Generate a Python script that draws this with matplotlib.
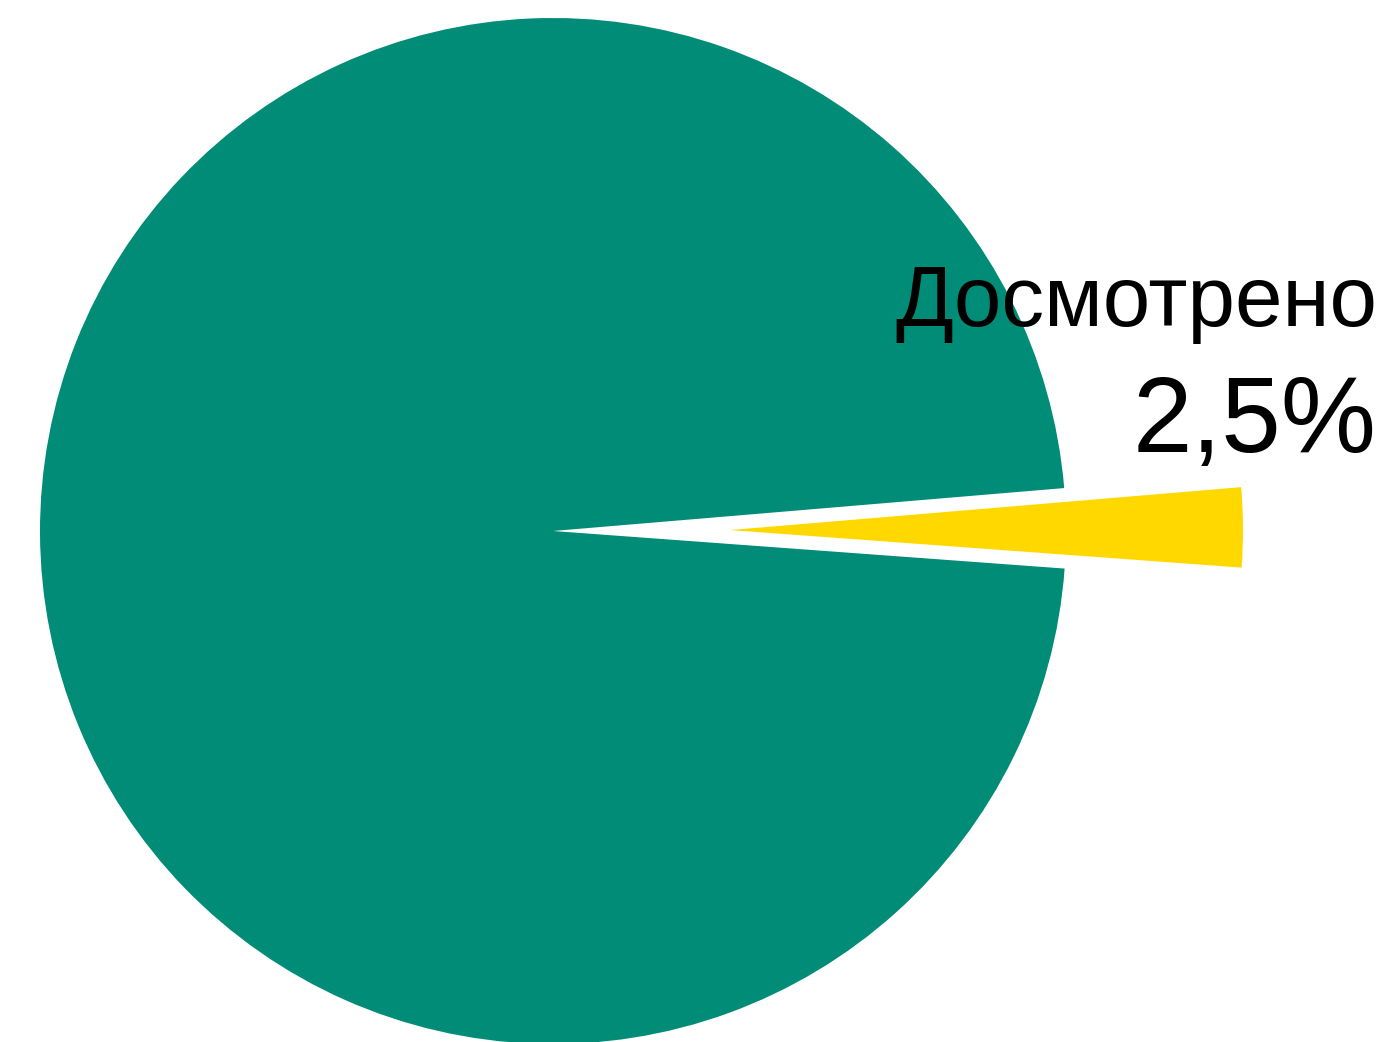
import matplotlib
matplotlib.use("Agg")
import matplotlib.pyplot as plt

categories = ["Досмотрено", "Не досмотрено"]
values = [2.5, 97.5]
colors = ["#FFD800", "#008C77"]
explode = [0.345, 0.0]

plt.rcParams['font.family'] = ['Liberation Sans', 'DejaVu Sans']

W, H = 1388, 1042
fig = plt.figure(figsize=(W / 100, H / 100), dpi=100)
ax = fig.add_axes([0, 0, 1, 1])
R = 513.0
cx, cy = 553.0, 531.0
ax.pie(values, colors=colors, explode=explode, startangle=-4.2,
       radius=1.0, center=(0, 0), wedgeprops=dict(linewidth=0))
ax.set_xlim(-cx / R, (W - cx) / R)
ax.set_ylim(-(H - cy) / R, cy / R)
ax.set_aspect('auto')
ax.axis('off')

pct = f"{values[0]:.1f}".replace('.', ',') + "%"
ax.text((1377 - cx) / R, (cy - 326) / R, categories[0], ha='right', va='baseline',
        fontsize=61.5, color='black')
ax.text((1377 - cx) / R, (cy - 452) / R, pct, ha='right', va='baseline',
        fontsize=77, color='black')

fig.savefig("out.png", dpi=100)
